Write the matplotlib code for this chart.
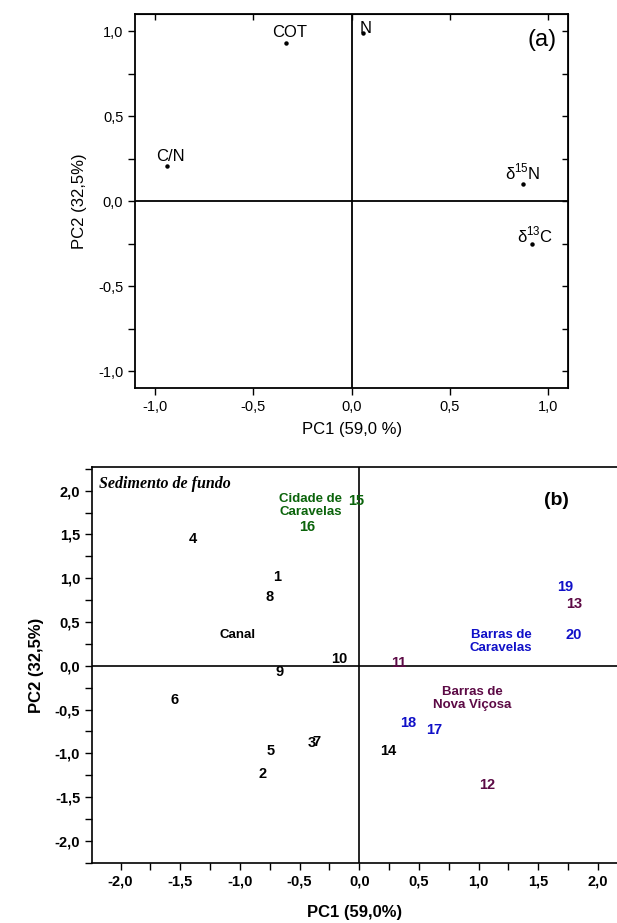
import numpy as np
import matplotlib.pyplot as plt
from matplotlib.ticker import MultipleLocator, FuncFormatter, NullFormatter

plt.rcParams['font.family'] = ['Liberation Sans', 'DejaVu Sans']
plt.rcParams['mathtext.fontset'] = 'custom'
plt.rcParams['mathtext.rm'] = 'Liberation Sans'

# (a) loadings
var_names = ['COT', 'N', 'C/N', 'δ$^{15}$N', 'δ$^{13}$C']
var_pc1 = [-0.332, 0.058, -0.938, 0.869, 0.918]
var_pc2 = [0.93, 0.986, 0.206, 0.102, -0.255]
var_offsets = [(3, 10), (3, 5), (3, 10), (0, 12), (3, 9)]

# (b) scores
samples = ['1', '2', '3', '4', '5', '6', '7', '8', '9', '10',
           '11', '12', '13', '14', '15', '16', '17', '18', '19', '20']
score_pc1 = [-0.687, -0.812, -0.397, -1.396, -0.740, -1.545, -0.355, -0.754, -0.671, -0.168,
             0.333, 1.073, 1.802, 0.243, -0.022, -0.433, 0.629, 0.411, 1.730, 1.794]
score_pc2 = [1.01, -1.238, -0.886, 1.45, -0.971, -0.389, -0.869, 0.78, -0.069, 0.077,
             0.031, -1.36, 0.705, -0.979, 1.88, 1.59, -0.739, -0.655, 0.899, 0.346]
groups = ['c', 'c', 'c', 'c', 'c', 'c', 'c', 'c', 'c', 'c',
          'nv', 'nv', 'nv', 'c', 'cc', 'cc', 'bc', 'bc', 'bc', 'bc']
group_colors = {'c': 'black', 'nv': '#5c0a45', 'cc': '#0b640b', 'bc': '#1010c8'}

group_names = ['Canal', 'Cidade de\nCaravelas', 'Barras de\nCaravelas', 'Barras de\nNova Viçosa']
group_x = [-1.023, -0.41, 1.19, 0.95]
group_y = [0.354, 1.83, 0.28, -0.37]
group_keys = ['c', 'cc', 'bc', 'nv']

comma = FuncFormatter(lambda v, p: ('%.1f' % v).replace('.', ','))

fig = plt.figure(figsize=(6.17, 9.23), dpi=100)

# ---- panel (a)
ax1 = fig.add_axes([0.219, 0.5796, 0.7018, 0.4052])
ax1.axhline(0, color='black', lw=1.3)
ax1.axvline(0, color='black', lw=1.3)
ax1.plot(var_pc1, var_pc2, 'o', color='black', ms=2.2)
for name, x, y, off in zip(var_names, var_pc1, var_pc2, var_offsets):
    ax1.annotate(name, (x, y), xytext=off, textcoords='offset pixels',
                 ha='center', va='center', fontsize=12)
ax1.set_xlim(-1.1, 1.1)
ax1.set_ylim(-1.1, 1.1)
ax1.xaxis.set_major_locator(MultipleLocator(0.5))
ax1.yaxis.set_major_locator(MultipleLocator(0.5))
ax1.yaxis.set_minor_locator(MultipleLocator(0.25))
ax1.xaxis.set_major_formatter(comma)
ax1.yaxis.set_major_formatter(comma)
ax1.tick_params(which='both', direction='out', length=5, width=1, labelsize=10.5)
for s in ax1.spines.values():
    s.set_linewidth(1.3)
# inward ticks on top and right
top = ax1.secondary_xaxis('top')
top.xaxis.set_major_locator(MultipleLocator(0.5))
top.xaxis.set_major_formatter(NullFormatter())
top.tick_params(direction='in', length=4, width=1)
right = ax1.secondary_yaxis('right')
right.yaxis.set_major_locator(MultipleLocator(0.25))
right.yaxis.set_major_formatter(NullFormatter())
right.tick_params(direction='in', length=4, width=1)
ax1.set_xlabel('PC1 (59,0 %)', fontsize=12, labelpad=6)
ax1.set_ylabel('PC2 (32,5%)', fontsize=12, labelpad=8)
ax1.text(0.94, 0.93, '(a)', transform=ax1.transAxes, fontsize=17, ha='center', va='center')

# ---- panel (b)
ax2 = fig.add_axes([0.149, 0.0653, 0.851, 0.4287])
ax2.axhline(0, color='black', lw=1.2)
ax2.axvline(0, color='black', lw=1.2)
for s, x, y, g in zip(samples, score_pc1, score_pc2, groups):
    ax2.text(x, y, s, color=group_colors[g], fontsize=10.5, fontweight='bold',
             ha='center', va='center')
for name, x, y, g in zip(group_names, group_x, group_y, group_keys):
    ax2.text(x, y, name, color=group_colors[g], fontsize=9.5, fontweight='bold',
             ha='center', va='center', linespacing=1.1)
ax2.text(0.013, 0.957, 'Sedimento de fundo', transform=ax2.transAxes,
         family='Liberation Serif', style='italic', fontweight='bold', fontsize=11.5,
         ha='left', va='center')
ax2.text(0.885, 0.915, '(b)', transform=ax2.transAxes, fontsize=14, fontweight='bold',
         ha='center', va='center')
ax2.set_xlim(-2.24, 2.16)
ax2.set_ylim(-2.25, 2.27)
ax2.xaxis.set_major_locator(MultipleLocator(0.5))
ax2.xaxis.set_minor_locator(MultipleLocator(0.25))
ax2.yaxis.set_major_locator(MultipleLocator(0.5))
ax2.yaxis.set_minor_locator(MultipleLocator(0.25))
ax2.xaxis.set_major_formatter(comma)
ax2.yaxis.set_major_formatter(comma)
ax2.tick_params(which='both', direction='out', length=5, width=1, labelsize=10.5)
for lbl in ax2.get_xticklabels() + ax2.get_yticklabels():
    lbl.set_fontweight('bold')
ax2.spines['right'].set_visible(False)
for s in ax2.spines.values():
    s.set_linewidth(1.2)
ax2.set_xlabel('PC1 (59,0%)', fontsize=12, fontweight='bold', labelpad=12)
ax2.set_ylabel('PC2 (32,5%)', fontsize=12, fontweight='bold', labelpad=8)

fig.savefig('out.png', dpi=100)
